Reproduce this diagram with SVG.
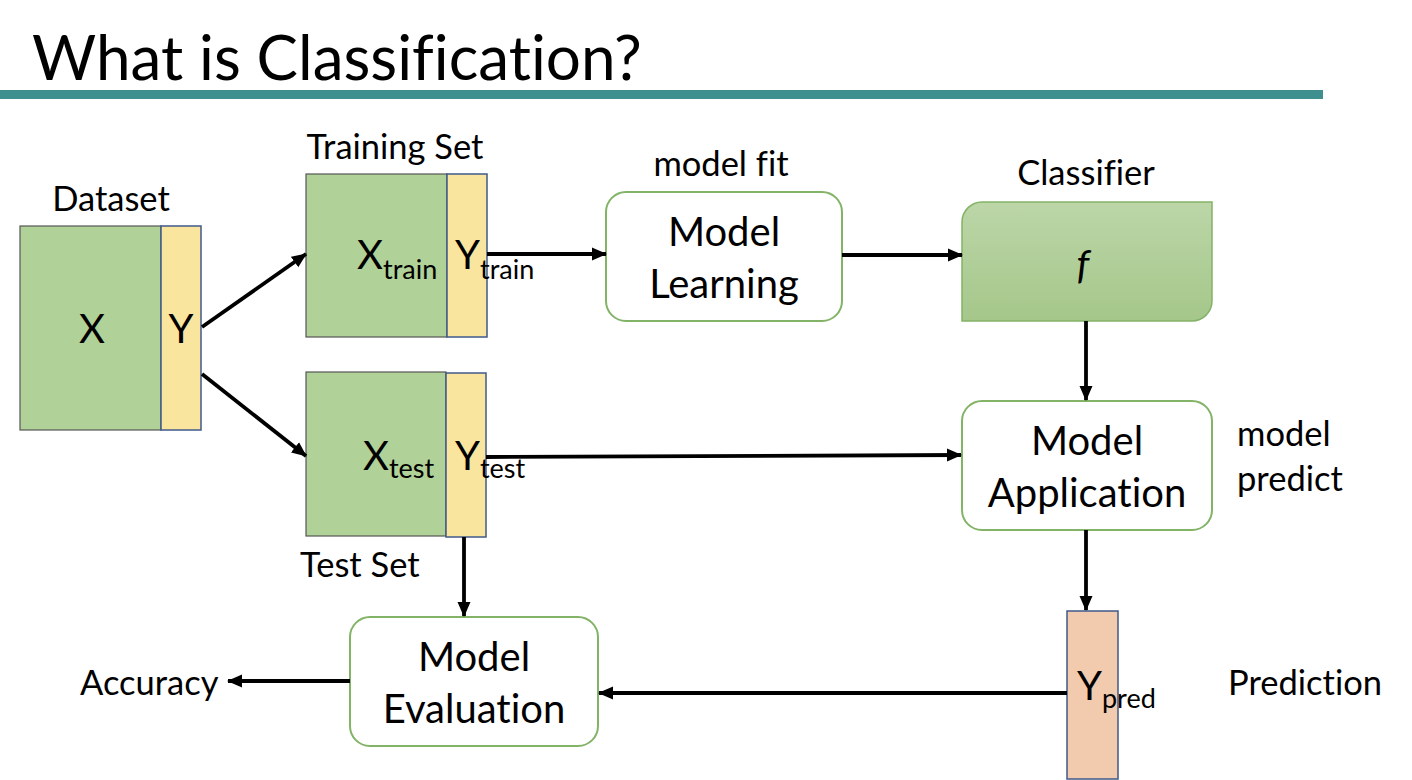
<svg xmlns="http://www.w3.org/2000/svg" width="1412" height="780" viewBox="0 0 1412 780">
<style>
text{font-family:Lato,"Open Sans","Liberation Sans",sans-serif;fill:#000;font-variant-ligatures:none}
.lbl{font-size:34.5px}
.big{font-size:40px}
.sub{font-size:27px}
.box{fill:#fff;stroke:#82b366;stroke-width:2}
.xg{fill:#b0d197;stroke:#555;stroke-width:1.2}
.yy{fill:#fae59f;stroke:#3f5a8a;stroke-width:1.5}
.conn{stroke:#000;stroke-width:3.8;fill:none;marker-end:url(#ah)}
</style>
<defs>
<marker id="ah" markerUnits="userSpaceOnUse" markerWidth="15" markerHeight="15" viewBox="0 0 15 15" refX="14" refY="7.5" orient="auto">
<path d="M0,1 L15,7.5 L0,14 Z" fill="#000"/>
</marker>
<linearGradient id="cg" x1="0" y1="0" x2="0" y2="1">
<stop offset="0" stop-color="#bcd6a8"/>
<stop offset="1" stop-color="#a5c78a"/>
</linearGradient>
</defs>
<rect width="1412" height="780" fill="#fff"/>
<g id="title">
<text x="32" y="80" style="font-size:62px">What is Classification?</text>
<rect x="0" y="90" width="1323" height="9" fill="#3f8f8f"/>
</g>
<g id="dataset">
<text x="111" y="211" class="lbl" text-anchor="middle">Dataset</text>
<rect x="20" y="226" width="141" height="204" class="xg"/>
<rect x="161" y="226" width="40" height="204" class="yy"/>
<text x="92" y="343" class="big" text-anchor="middle">X</text>
<text x="181" y="343" class="big" text-anchor="middle">Y</text>
</g>
<g id="training">
<text x="395" y="159" class="lbl" text-anchor="middle">Training Set</text>
<rect x="306" y="174" width="141" height="163" class="xg"/>
<rect x="447" y="174" width="40" height="163" class="yy"/>
<text x="357" y="269" class="big">X<tspan class="sub" dy="10">train</tspan></text>
<text x="455" y="269" class="big">Y<tspan class="sub" dy="10">train</tspan></text>
</g>
<g id="test">
<rect x="306" y="372" width="140" height="164" class="xg"/>
<rect x="446" y="373" width="40" height="164" class="yy"/>
<text x="363" y="470" class="big">X<tspan class="sub" dy="8">test</tspan></text>
<text x="455" y="470" class="big">Y<tspan class="sub" dy="8">test</tspan></text>
<text x="300" y="577" class="lbl">Test Set</text>
</g>
<g id="learning">
<text x="721" y="176" class="lbl" text-anchor="middle">model fit</text>
<rect x="606" y="192" width="236" height="129" rx="20" class="box"/>
<text x="724" y="246" class="big" text-anchor="middle">Model</text>
<text x="724" y="298" class="big" text-anchor="middle">Learning</text>
</g>
<g id="classifier">
<text x="1086" y="185" class="lbl" text-anchor="middle">Classifier</text>
<path d="M982,202 H1212 V301 A20,20 0 0 1 1192,321 H962 V222 A20,20 0 0 1 982,202 Z" fill="url(#cg)" stroke="#82b366" stroke-width="1.5"/>
<text x="1083" y="279" class="big" text-anchor="middle" font-style="italic">f</text>
</g>
<g id="application">
<rect x="962" y="401" width="250" height="129" rx="20" class="box"/>
<text x="1087" y="455" class="big" text-anchor="middle">Model</text>
<text x="1087" y="507" class="big" text-anchor="middle">Application</text>
<text x="1237" y="446" class="lbl">model</text>
<text x="1237" y="491" class="lbl">predict</text>
</g>
<g id="prediction">
<rect x="1067" y="611" width="51" height="168" fill="#f2cbaf" stroke="#3f5a8a" stroke-width="1.5"/>
<text x="1077" y="700" class="big">Y<tspan class="sub" dy="8">pred</tspan></text>
<text x="1228" y="695" class="lbl">Prediction</text>
</g>
<g id="evaluation">
<rect x="350" y="617" width="248" height="129" rx="20" class="box"/>
<text x="474" y="671" class="big" text-anchor="middle">Model</text>
<text x="474" y="723" class="big" text-anchor="middle">Evaluation</text>
<text x="80" y="695" class="lbl">Accuracy</text>
</g>
<g id="connectors">
<line x1="202" y1="327" x2="306" y2="254" class="conn"/>
<line x1="202" y1="374" x2="306" y2="456" class="conn"/>
<line x1="487" y1="254" x2="606" y2="254" class="conn"/>
<line x1="842" y1="255" x2="962" y2="255" class="conn"/>
<line x1="1086" y1="321" x2="1086" y2="400" class="conn"/>
<line x1="486" y1="457" x2="961" y2="455" class="conn"/>
<line x1="1086" y1="530" x2="1086" y2="610" class="conn"/>
<line x1="464" y1="537" x2="464" y2="616" class="conn"/>
<line x1="1067" y1="693" x2="599" y2="693" class="conn"/>
<line x1="350" y1="681" x2="228" y2="681" class="conn"/>
</g>
</svg>
